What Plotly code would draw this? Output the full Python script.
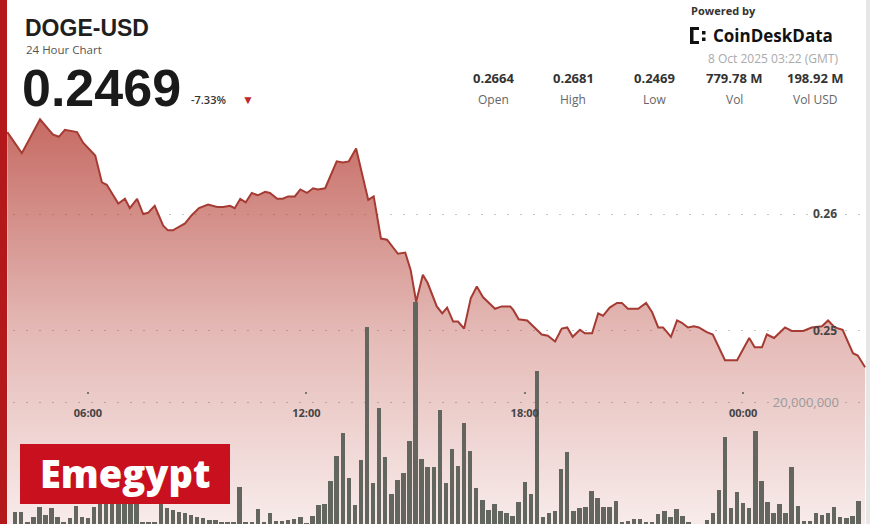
import plotly.graph_objects as go
from datetime import datetime, timedelta

# ---------------- data ----------------
price_times = [
    "03:47", "04:11", "04:41", "05:02", "05:12", "05:22", "05:42", "05:52", "06:12", "06:23",
    "06:31", "06:50", "07:01", "07:09", "07:21", "07:31", "07:39", "07:50", "08:04", "08:12",
    "08:20", "08:35", "08:40", "08:51", "09:03", "09:18", "09:33", "09:43", "09:54", "10:02",
    "10:11", "10:20", "10:30", "10:40", "10:52", "11:00", "11:12", "11:21", "11:30", "11:41",
    "11:50", "12:01", "12:11", "12:19", "12:31", "12:50", "13:00", "13:10", "13:22", "13:42",
    "13:51", "14:03", "14:13", "14:31", "14:43", "14:52", "15:01", "15:12", "15:20", "15:35",
    "15:44", "15:52", "16:02", "16:10", "16:20", "16:31", "16:41", "16:51", "17:11", "17:22",
    "17:36", "17:41", "17:50", "18:04", "18:12", "18:28", "18:38", "18:50", "19:01", "19:10",
    "19:19", "19:31", "19:39", "19:51", "20:01", "20:09", "20:20", "20:32", "20:40", "20:50",
    "21:07", "21:20", "21:30", "21:40", "21:48", "22:01", "22:11", "22:19", "22:29", "22:39",
    "22:47", "23:00", "23:10", "23:30", "23:50", "00:10", "00:19", "00:31", "00:39", "00:51",
    "01:09", "01:20", "01:39", "01:53", "02:10", "02:20", "02:31", "02:44", "03:01", "03:09",
    "03:21",
]
price_values = [
    0.2670, 0.2652, 0.2681, 0.2668, 0.2666, 0.2672, 0.2670, 0.2661, 0.2650, 0.2627,
    0.2625, 0.2609, 0.2613, 0.2605, 0.2613, 0.2600, 0.2601, 0.2607, 0.2590, 0.2586,
    0.2586, 0.2591, 0.2592, 0.2599, 0.2605, 0.2608, 0.2606, 0.2606, 0.2607, 0.2605,
    0.2613, 0.2610, 0.2618, 0.2616, 0.2619, 0.2618, 0.2613, 0.2613, 0.2615, 0.2615,
    0.2621, 0.2618, 0.2622, 0.2621, 0.2622, 0.2645, 0.2644, 0.2645, 0.2656, 0.2612,
    0.2615, 0.2579, 0.2578, 0.2566, 0.2567, 0.2552, 0.2525, 0.2548, 0.2541, 0.2521,
    0.2515, 0.2520, 0.2508, 0.2508, 0.2502, 0.2528, 0.2538, 0.2529, 0.2519, 0.2521,
    0.2521, 0.2518, 0.2510, 0.2509, 0.2505, 0.2497, 0.2496, 0.2491, 0.2502, 0.2503,
    0.2495, 0.2501, 0.2498, 0.2498, 0.2515, 0.2513, 0.2520, 0.2524, 0.2524, 0.2519,
    0.2519, 0.2524, 0.2516, 0.2503, 0.2503, 0.2495, 0.2509, 0.2507, 0.2503, 0.2504,
    0.2503, 0.2499, 0.2497, 0.2475, 0.2475, 0.2494, 0.2486, 0.2486, 0.2497, 0.2494,
    0.2503, 0.2500, 0.2500, 0.2503, 0.2504, 0.2509, 0.2503, 0.2501, 0.2481, 0.2479,
    0.2469,
]

volume_start = "2025-10-07 04:00"
volume_step_minutes = 10
volumes_m = [
    2.0, 2.0, 0.3, 1.1, 2.8, 1.5, 2.6, 1.1, 0.3, 1.0,
    3.0, 1.1, 1.0, 2.8, 4.5, 4.6, 4.5, 4.6, 4.5, 4.6,
    4.5, 0.3, 0.3, 0.3, 4.2, 2.6, 2.3, 2.0, 1.8, 1.5,
    1.1, 1.0, 0.7, 0.7, 0.2, 0.2, 0.3, 6.1, 0.3, 0.3,
    2.5, 0.3, 1.8, 0.5, 0.5, 0.7, 0.8, 1.1, 0.1, 1.3,
    3.1, 3.3, 7.0, 11.1, 14.9, 7.5, 3.1, 10.5, 32.3, 6.7,
    19.0, 11.0, 4.9, 7.2, 8.4, 13.6, 36.4, 10.7, 9.3, 9.3,
    18.7, 6.7, 12.3, 9.5, 16.6, 12.0, 5.9, 3.9, 2.3, 3.3,
    2.1, 1.8, 1.3, 3.6, 6.9, 4.9, 25.1, 1.1, 1.8, 2.1,
    9.0, 11.8, 2.1, 2.6, 2.8, 5.4, 4.3, 2.8, 2.8, 3.8,
    0.3, 0.5, 0.8, 0.8, 0.2, 0.2, 1.6, 2.1, 1.1, 2.5,
    1.3, 0.3, 0.0, 0.0, 0.7, 1.8, 5.6, 14.3, 2.6, 5.2,
    3.4, 2.6, 15.2, 7.0, 3.6, 1.8, 3.3, 1.8, 9.3, 3.0,
    0.5, 0.5, 1.8, 1.5, 1.8, 2.8, 1.1, 1.0, 1.3, 3.8,
]

price_ticks = [0.25, 0.26]
price_tick_text = ["0.25", "0.26"]
volume_ticks = [20_000_000]
volume_tick_text = ["20,000,000"]

stats_values = ["0.2664", "0.2681", "0.2469", "779.78 M", "198.92 M"]
stats_labels = ["Open", "High", "Low", "Vol", "Vol USD"]

# ---------------- build timestamps ----------------
day = datetime(2025, 10, 7)
ptimes = []
prev = None
for t in price_times:
    h, m = map(int, t.split(":"))
    if prev is not None and (h, m) < prev:
        day = day + timedelta(days=1)
    prev = (h, m)
    ptimes.append(day + timedelta(hours=h, minutes=m))

v0 = datetime.strptime(volume_start, "%Y-%m-%d %H:%M")
vtimes = [v0 + timedelta(minutes=volume_step_minutes * i) for i in range(len(volumes_m))]
vols = [v * 1_000_000 for v in volumes_m]

# ---------------- layout helpers ----------------
FIG_W, FIG_H = 870, 524
ML, MR, MT, MB = 0, 4, 110, 0
PW, PH = FIG_W - ML - MR, FIG_H - MT - MB


def px(x):
    return (x - ML) / PW


def py(y):
    return (FIG_H - MB - y) / PH


P_MIN, P_MAX = 0.2335, 0.26889
V_MAX = 67.87e6

FONT = "Open Sans"

fig = go.Figure()
fig.add_trace(go.Scatter(
    x=ptimes, y=price_values, mode="lines", line=dict(width=0),
    fill="tozeroy",
    fillgradient=dict(type="vertical", start=P_MIN, stop=0.2681,
                      colorscale=[[0, "rgba(180,60,50,0.10)"],
                                  [0.48, "rgba(180,60,50,0.36)"],
                                  [1, "rgba(180,60,50,0.76)"]]),
    yaxis="y", hoverinfo="skip"))
fig.add_trace(go.Bar(
    x=vtimes, y=vols, width=440000,
    marker=dict(color="#63665f", line=dict(width=0)),
    yaxis="y2", hoverinfo="skip"))
fig.add_trace(go.Scatter(
    x=ptimes, y=price_values, mode="lines",
    line=dict(color="#a53b33", width=2),
    yaxis="y3", hoverinfo="skip"))

grid = dict(showgrid=True, gridcolor="#c4c4c4", griddash="2px,11px", gridwidth=1)

fig.update_layout(
    width=FIG_W, height=FIG_H,
    margin=dict(l=ML, r=MR, t=MT, b=MB),
    paper_bgcolor="white", plot_bgcolor="rgba(0,0,0,0)",
    showlegend=False, bargap=0,
    xaxis=dict(type="date",
               range=[datetime(2025, 10, 7, 3, 35), datetime(2025, 10, 8, 3, 22, 30)],
               anchor="free", position=py(394),
               showgrid=False, showline=False, zeroline=False,
               ticks="inside", ticklen=2, tickwidth=2, tickcolor="#777",
               tickformat="%H:%M", dtick=6 * 3600 * 1000, tick0="2025-10-07 00:00",
               tickfont=dict(family=FONT, size=11, color="#444", weight="bold"),
               ticklabelstandoff=11),
    yaxis=dict(range=[P_MIN, P_MAX], side="right", tickvals=price_ticks, ticktext=price_tick_text,
               ticklabelposition="inside", ticks="", showline=False, zeroline=False,
               tickfont=dict(family=FONT, size=12, color="#444", weight="bold"),
               ticklabelstandoff=26, **grid),
    yaxis2=dict(range=[0, V_MAX], overlaying="y", side="right",
                tickvals=volume_ticks, ticktext=volume_tick_text,
                ticklabelposition="inside", ticks="", showline=False, zeroline=False,
                tickfont=dict(family=FONT, size=13, color="#9a9a9a"),
                ticklabelstandoff=24, **grid),
    yaxis3=dict(range=[P_MIN, P_MAX], overlaying="y", visible=False),
)

ann = []


def text(x, y, s, size, color="#222", bold=False, xanchor="left", weight=None, family=FONT):
    ann.append(dict(x=px(x), y=py(y), xref="paper", yref="paper", text=s, showarrow=False,
                    xanchor=xanchor, yanchor="middle",
                    font=dict(family=family, size=size, color=color,
                              weight=weight if weight else ("bold" if bold else "normal"))))


text(23, 28, "DOGE-USD", 23, "#1f1f1f", bold=True, family="Liberation Sans")
text(24, 49, "24 Hour Chart", 11.5, "#555")
text(20, 88, "0.2469", 52, "#1a1a1a", bold=True, family="Liberation Sans")
text(189, 99, "-7.33%", 11, "#333", weight=600)
text(248, 100, "▼", 12, "#c0282d", xanchor="center")

text(689, 10, "Powered by", 11, "#333", bold=True)
text(711, 35, "CoinDeskData", 17, "#111", bold=True)
text(840, 59, "8 Oct 2025 03:22 (GMT)", 12, "#aaaaaa", xanchor="right")

stat_x = [493, 573, 654, 734, 815]
for sx, v, lab in zip(stat_x, stats_values, stats_labels):
    text(sx, 78, v, 13, "#333", bold=True, xanchor="center")
    text(sx, 99, lab, 12, "#666", xanchor="center")

text(125, 473, "Emegypt", 38, "white", weight=800, xanchor="center")

fig.update_layout(annotations=ann)

shapes = []


def rect(x0, y0, x1, y1, color, layer="above"):
    shapes.append(dict(type="rect", xref="paper", yref="paper",
                       x0=px(x0), x1=px(x1), y0=py(y1), y1=py(y0),
                       fillcolor=color, line=dict(width=0), layer=layer))


# logo icon
rect(690, 27, 693.5, 44, "#111")
rect(690, 27, 699, 30, "#111")
rect(690, 41, 699, 44, "#111")
rect(702, 31, 705.5, 34.5, "#111")
rect(702, 37.5, 705.5, 41, "#111")
# watermark box
rect(20, 444, 230, 504, "#c8101e")
# left red band, right border
rect(0, 0, 7, 524, "#b3191b")
rect(866, 0, 870, 524, "#e6e6e6")

fig.update_layout(shapes=shapes)

fig.write_html("out.html", config={"displayModeBar": False},
               post_script="document.body.style.margin='0';document.body.style.overflow='hidden';")
